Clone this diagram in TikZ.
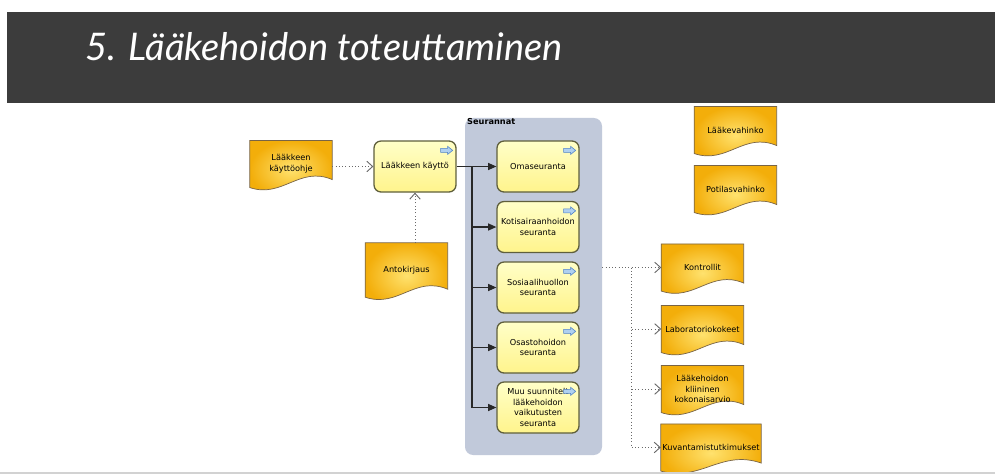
\documentclass[tikz,border=0pt]{standalone}
\usepackage{fontspec}
\setmainfont{DejaVu Sans}
\newfontfamily\titlefont{Lato}
\usetikzlibrary{arrows.meta,calc,backgrounds}
\definecolor{banner}{RGB}{60,60,60}
\definecolor{poolfill}{RGB}{193,201,218}
\definecolor{taskin}{RGB}{255,255,200}
\definecolor{taskout}{RGB}{255,244,140}
\definecolor{taskline}{RGB}{95,95,60}
\definecolor{docin}{RGB}{255,226,110}
\definecolor{docout}{RGB}{243,174,10}
\definecolor{docline}{RGB}{120,100,70}
\definecolor{iconfill}{RGB}{175,208,240}
\definecolor{iconline}{RGB}{80,130,200}
\definecolor{flow}{RGB}{40,40,40}
\definecolor{info}{RGB}{105,105,105}
\begin{document}
\begin{tikzpicture}[x=0.03cm, y=-0.03cm, font=\fontsize{7}{9.2}\selectfont,
  task/.style={draw=taskline, line width=1.1pt, rounded corners=6pt, top color=taskin, bottom color=taskout,
    minimum width=2.46cm, minimum height=1.53cm, align=center, inner sep=1pt},
  doc/.style={minimum width=2.46cm, minimum height=1.4cm, align=center, inner sep=0pt},
  docfill/.style={draw=docline, line width=0.6pt, inner color=docin, outer color=docout},
  flowline/.style={draw=flow, line width=0.9pt},
  flowarrow/.style={flowline, -{Triangle[length=7pt,width=6pt]}},
  infoline/.style={draw=info, line width=0.8pt, dotted},
  infoarrow/.style={infoline, -{Straight Barb[length=5pt,width=9pt]}},
  flowicon/.pic={\draw[fill=iconfill, draw=iconline, line width=0.5pt]
    (-6,-2) -- (1,-2) -- (1,-4) -- (6,0) -- (1,4) -- (1,2) -- (-6,2) -- cycle;}]
\useasboundingbox (0,0) rectangle (995,476);
\fill[banner] (7,12) rectangle (995,103);
\draw (85,60) node[anchor=base west, text=white, inner sep=0pt,
  font=\titlefont\itshape\fontsize{32.5}{38}\selectfont] (title) {5. Lääkehoidon toteuttaminen};
\draw[gray!35, line width=1pt] (0,473) -- (995,473);
% Seurannat
\draw (533.5,286.5) node[fill=poolfill, rounded corners=7pt, minimum width=4.11cm, minimum height=10.11cm] (pool) {};
\draw (467,122) node[anchor=west, inner sep=0pt, font=\bfseries\fontsize{7}{9}\selectfont] (seur) {Seurannat};
\draw (415,166.5) node[task] (kaytto) {Lääkkeen käyttö};
\draw (538,166.5) node[task] (oma) {Omaseuranta};
\draw (538,227) node[task] (koti) {Kotisairaanhoidon\\seuranta};
\draw (538,287.5) node[task] (sos) {Sosiaalihuollon\\seuranta};
\draw (538,347.5) node[task] (osasto) {Osastohoidon\\seuranta};
\draw (538,407.5) node[task] (muu) {Muu suunnitelt\\lääkehoidon\\vaikutusten\\seuranta};
\foreach \n in {kaytto,oma,koti,sos,osasto,muu}
  \pic at ($(\n.north east)+(-10,10)$) {flowicon};
% dokumentit
\draw (291,164) node[doc] (ohje) {Lääkkeen\\käyttöohje};
\draw (406.5,270) node[doc, minimum height=1.62cm] (anto) {Antokirjaus};
\draw (735.5,130) node[doc] (lvah) {Lääkevahinko};
\draw (735.5,189) node[doc] (pvah) {Potilasvahinko};
\draw (702.5,267.5) node[doc] (kontr) {Kontrollit};
\draw (702.5,329) node[doc] (lab) {Laboratoriokokeet};
\draw (702.5,389) node[doc] (klin) {Lääkehoidon\\kliininen\\kokonaisarvio};
\draw (711,447.5) node[doc, minimum width=3cm] (kuva) {Kuvantamistutkimukset};
\begin{scope}[on background layer]
\foreach \n in {ohje,anto,lvah,pvah,kontr,lab,klin,kuva}
  \draw[docfill] (\n.north west) -- (\n.north east) -- ($(\n.south east)+(0,-8)$)
    .. controls ($(\n.south west)!0.6!(\n.south east)+(0,-22)$) and ($(\n.south west)!0.4!(\n.south east)+(0,11)$) .. (\n.south west) -- cycle;
\end{scope}
\draw[infoarrow] (ohje.east |- kaytto.west) -- (kaytto.west);
\draw[infoarrow] (kaytto.south |- anto.north) -- (kaytto.south);
\draw[flowarrow] (kaytto.east) -- (oma.west);
\coordinate (bus) at (472,166.5);
\draw[flowline] (bus) -- (bus |- muu.west);
\foreach \n in {koti,sos,osasto,muu}
  \draw[flowarrow] (bus |- \n.west) -- (\n.west);
\coordinate (fork) at ($(pool.east)!0.5!(kontr.west)$);
\draw[infoarrow] (pool.east |- kontr.west) -- (kontr.west);
\draw[infoline] (fork |- kontr.west) -- (fork |- kuva.west);
\foreach \n in {lab,klin,kuva}
  \draw[infoarrow] (fork |- \n.west) -- (\n.west);
\end{tikzpicture}
\end{document}
